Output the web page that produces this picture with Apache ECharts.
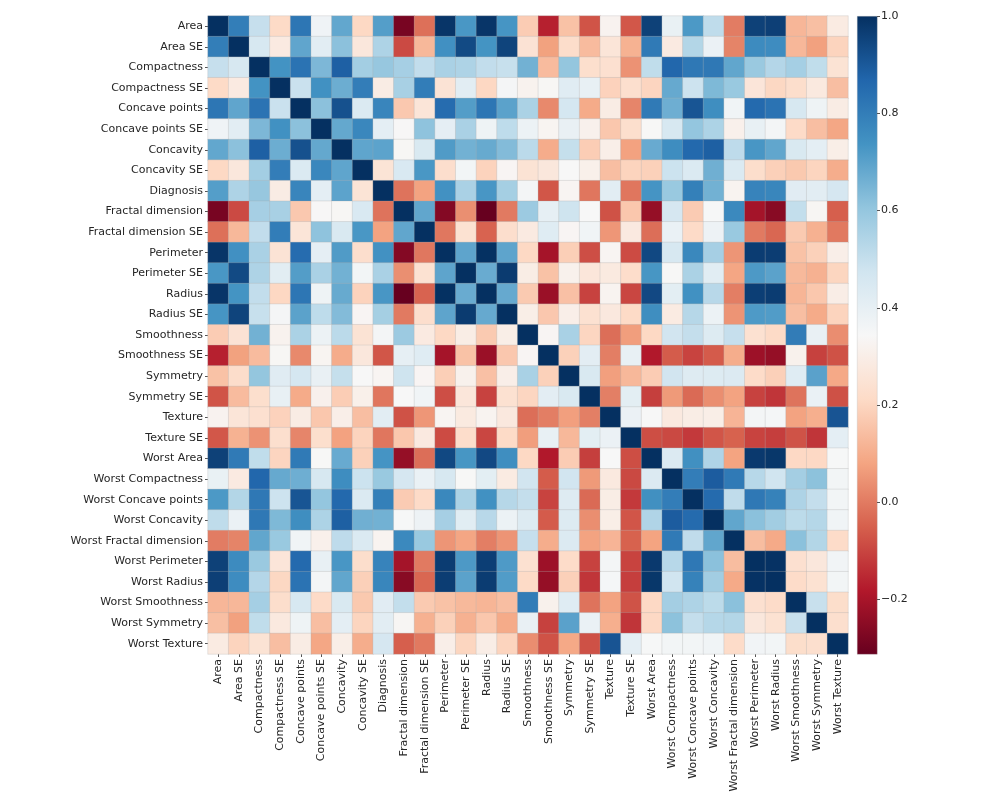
<!DOCTYPE html>
<html>
<head>
<meta charset="utf-8">
<script src="https://cdn.jsdelivr.net/npm/echarts@6/dist/echarts.min.js"></script>
<style>
  html, body { margin: 0; padding: 0; background: #fff; }
  #chart { width: 1000px; height: 800px; }
</style>
</head>
<body>
<div id="chart"></div>
<script>
// axis labels, in the order they are shown (top to bottom / left to right)
const labels = ['Area', 'Area SE', 'Compactness', 'Compactness SE', 'Concave points', 'Concave points SE',
    'Concavity', 'Concavity SE', 'Diagnosis', 'Fractal dimension', 'Fractal dimension SE', 'Perimeter',
    'Perimeter SE', 'Radius', 'Radius SE', 'Smoothness', 'Smoothness SE', 'Symmetry', 'Symmetry SE',
    'Texture', 'Texture SE', 'Worst Area', 'Worst Compactness', 'Worst Concave points', 'Worst Concavity',
    'Worst Fractal dimension', 'Worst Perimeter', 'Worst Radius', 'Worst Smoothness', 'Worst Symmetry',
    'Worst Texture']

// order of the correlation rows below (each row = correlation with the features after it)
const features = ['Radius', 'Texture', 'Perimeter', 'Area', 'Smoothness', 'Compactness', 'Concavity',
    'Concave points', 'Symmetry', 'Fractal dimension', 'Radius SE', 'Texture SE', 'Perimeter SE', 'Area SE',
    'Smoothness SE', 'Compactness SE', 'Concavity SE', 'Concave points SE', 'Symmetry SE', 'Fractal dimension SE',
    'Worst Radius', 'Worst Texture', 'Worst Perimeter', 'Worst Area', 'Worst Smoothness', 'Worst Compactness',
    'Worst Concavity', 'Worst Concave points', 'Worst Symmetry', 'Worst Fractal dimension', 'Diagnosis']

const radius = [0.324, 0.998, 0.987, 0.171, 0.506, 0.677, 0.823, 0.148, -0.312, 0.679, -0.097, 0.674, 0.736, -0.223, 0.206, 0.194, 0.376, -0.104, -0.043, 0.970, 0.297, 0.965, 0.941, 0.120, 0.413, 0.527, 0.744, 0.164, 0.007, 0.730]
const texture = [0.330, 0.321, -0.023, 0.237, 0.302, 0.293, 0.071, -0.076, 0.276, 0.386, 0.282, 0.260, 0.007, 0.192, 0.143, 0.164, 0.009, 0.054, 0.353, 0.912, 0.358, 0.344, 0.078, 0.278, 0.301, 0.295, 0.105, 0.119, 0.415]
const perimeter = [0.987, 0.207, 0.557, 0.716, 0.851, 0.183, -0.261, 0.692, -0.087, 0.693, 0.745, -0.203, 0.251, 0.228, 0.407, -0.082, -0.006, 0.969, 0.303, 0.970, 0.942, 0.151, 0.456, 0.564, 0.771, 0.189, 0.051, 0.743]
const area = [0.177, 0.499, 0.686, 0.823, 0.151, -0.283, 0.733, -0.066, 0.727, 0.800, -0.167, 0.213, 0.208, 0.372, -0.072, -0.020, 0.963, 0.287, 0.959, 0.959, 0.124, 0.391, 0.513, 0.722, 0.144, 0.004, 0.709]
const smoothness = [0.659, 0.522, 0.554, 0.558, 0.585, 0.301, 0.068, 0.296, 0.247, 0.332, 0.319, 0.248, 0.381, 0.201, 0.284, 0.213, 0.036, 0.239, 0.207, 0.805, 0.472, 0.435, 0.503, 0.394, 0.499, 0.359]
const compactness = [0.883, 0.831, 0.603, 0.565, 0.497, 0.046, 0.549, 0.456, 0.135, 0.739, 0.571, 0.642, 0.230, 0.507, 0.535, 0.248, 0.590, 0.510, 0.566, 0.866, 0.816, 0.816, 0.510, 0.687, 0.597]
const concavity = [0.921, 0.501, 0.337, 0.632, 0.076, 0.660, 0.617, 0.099, 0.670, 0.691, 0.683, 0.178, 0.449, 0.688, 0.300, 0.730, 0.676, 0.449, 0.755, 0.884, 0.861, 0.409, 0.515, 0.696]
const concavePoints = [0.462, 0.167, 0.698, 0.021, 0.711, 0.690, 0.028, 0.490, 0.439, 0.616, 0.095, 0.258, 0.830, 0.293, 0.856, 0.810, 0.453, 0.667, 0.752, 0.910, 0.376, 0.369, 0.777]
const symmetry = [0.480, 0.303, 0.128, 0.314, 0.224, 0.188, 0.422, 0.343, 0.393, 0.449, 0.332, 0.186, 0.091, 0.219, 0.177, 0.427, 0.473, 0.434, 0.430, 0.700, 0.438, 0.330]
const fractal = [0.000, 0.164, 0.040, -0.090, 0.402, 0.560, 0.447, 0.341, 0.345, 0.688, -0.254, -0.051, -0.205, -0.232, 0.505, 0.459, 0.346, 0.175, 0.334, 0.767, -0.013]
const radiusSE = [0.213, 0.973, 0.952, 0.165, 0.356, 0.332, 0.514, 0.241, 0.228, 0.715, 0.195, 0.720, 0.752, 0.142, 0.287, 0.381, 0.531, 0.095, 0.050, 0.567]
const textureSE = [0.223, 0.112, 0.397, 0.232, 0.195, 0.230, 0.412, 0.280, -0.112, 0.409, -0.102, -0.083, -0.074, -0.092, -0.069, -0.120, -0.128, -0.046, -0.008]
const perimeterSE = [0.938, 0.151, 0.416, 0.362, 0.556, 0.266, 0.244, 0.697, 0.200, 0.721, 0.731, 0.130, 0.342, 0.419, 0.555, 0.110, 0.085, 0.556]
const areaSE = [0.075, 0.285, 0.271, 0.416, 0.134, 0.127, 0.757, 0.196, 0.761, 0.811, 0.125, 0.283, 0.385, 0.538, 0.074, 0.018, 0.548]
const smoothnessSE = [0.337, 0.269, 0.328, 0.414, 0.427, -0.231, -0.075, -0.217, -0.182, 0.314, -0.056, -0.058, -0.102, -0.107, 0.101, -0.067]
const compactnessSE = [0.801, 0.744, 0.395, 0.803, 0.205, 0.143, 0.261, 0.199, 0.227, 0.679, 0.639, 0.483, 0.278, 0.591, 0.293]
const concavitySE = [0.772, 0.309, 0.727, 0.187, 0.100, 0.227, 0.188, 0.168, 0.485, 0.663, 0.440, 0.198, 0.439, 0.254]
const concavePointsSE = [0.313, 0.611, 0.358, 0.087, 0.395, 0.342, 0.215, 0.453, 0.550, 0.602, 0.143, 0.311, 0.408]
const symmetrySE = [0.369, -0.128, -0.077, -0.104, -0.110, -0.013, 0.060, 0.037, -0.030, 0.389, 0.078, -0.007]
const fractalSE = [-0.037, -0.003, -0.001, -0.023, 0.171, 0.390, 0.380, 0.215, 0.111, 0.591, 0.078]
const worstRadius = [0.360, 0.994, 0.984, 0.217, 0.476, 0.574, 0.787, 0.244, 0.093, 0.776]
const worstTexture = [0.365, 0.346, 0.225, 0.361, 0.368, 0.360, 0.233, 0.219, 0.457]
const worstPerimeter = [0.978, 0.237, 0.529, 0.618, 0.816, 0.269, 0.139, 0.783]
const worstArea = [0.209, 0.438, 0.543, 0.747, 0.209, 0.080, 0.734]
const worstSmoothness = [0.568, 0.518, 0.548, 0.494, 0.618, 0.421]
const worstCompactness = [0.892, 0.801, 0.614, 0.810, 0.591]
const worstConcavity = [0.855, 0.533, 0.687, 0.660]
const worstConcavePoints = [0.503, 0.511, 0.794]
const worstSymmetry = [0.538, 0.416]
const worstFractal = [0.324]
const diagnosis = []

const colorbarTicks = [-0.2, 0.0, 0.2, 0.4, 0.6, 0.8, 1.0]
const valueMin = -0.312
const valueMax = 1.0

const rows = [radius, texture, perimeter, area, smoothness, compactness, concavity, concavePoints,
    symmetry, fractal, radiusSE, textureSE, perimeterSE, areaSE, smoothnessSE, compactnessSE, concavitySE,
    concavePointsSE, symmetrySE, fractalSE, worstRadius, worstTexture, worstPerimeter, worstArea,
    worstSmoothness, worstCompactness, worstConcavity, worstConcavePoints, worstSymmetry, worstFractal, diagnosis]

// symmetric lookup
let corr = {}
features.forEach(f => { corr[f] = {}; corr[f][f] = 1 })
rows.forEach((row, i) => {
    row.forEach((v, k) => {
        let j = i + 1 + k
        corr[features[i]][features[j]] = v
        corr[features[j]][features[i]] = v
    })
})

let data = []
labels.forEach((ry, yi) => {
    labels.forEach((rx, xi) => {
        data.push([xi, yi, corr[ry][rx]])
    })
})

const textColor = '#262626'
const font = 'DejaVu Sans'
// RdBu, low -> high
const rdBu = ['#67001f', '#b2182b', '#d6604d', '#f4a582', '#fddbc7', '#f7f7f7',
    '#d1e5f0', '#92c5de', '#4393c3', '#2166ac', '#053061']

let chart = echarts.init(document.getElementById('chart'))
let option = {
    animation: false,
    textStyle: { fontFamily: font },
    grid: [
        { left: 208, top: 16, width: 640, height: 638 },
        { left: 857, top: 16, width: 20, height: 638 }
    ],
    // colour bar body (square, like matplotlib)
    graphic: [{
        type: 'rect',
        left: 857,
        top: 16,
        shape: { width: 20, height: 638 },
        style: {
            fill: new echarts.graphic.LinearGradient(0, 0, 0, 1,
                rdBu.slice().reverse().map((c, i) => ({ offset: i / (rdBu.length - 1), color: c }))),
            stroke: 'rgba(180,180,180,0.6)',
            lineWidth: 0.5
        },
        silent: true,
        z: 0
    }],
    xAxis: [{
        type: 'category',
        data: labels,
        gridIndex: 0,
        position: 'bottom',
        axisLine: { show: false },
        axisTick: { show: true, alignWithLabel: true, length: 3, lineStyle: { color: '#555' } },
        axisLabel: { rotate: 90, interval: 0, fontSize: 11, color: textColor, margin: 5, fontFamily: font },
        splitLine: { show: false }
    }, {
        type: 'category',
        gridIndex: 1,
        data: [''],
        show: false
    }],
    yAxis: [{
        type: 'category',
        data: labels,
        gridIndex: 0,
        inverse: true,
        axisLine: { show: false },
        axisTick: { show: true, alignWithLabel: true, length: 3, lineStyle: { color: '#555' } },
        axisLabel: { interval: 0, fontSize: 11, color: textColor, margin: 5, fontFamily: font },
        splitLine: { show: false }
    }, {
        type: 'value',
        gridIndex: 1,
        min: valueMin,
        max: valueMax,
        position: 'right',
        axisLine: { show: false },
        splitLine: { show: false },
        axisTick: { show: true, length: 3, customValues: colorbarTicks, lineStyle: { color: '#555' } },
        axisLabel: {
            customValues: colorbarTicks,
            fontSize: 11,
            color: textColor,
            margin: 4,
            fontFamily: font,
            formatter: v => (v < 0 ? '\u2212' : '') + Math.abs(v).toFixed(1)
        }
    }],
    visualMap: {
        type: 'continuous',
        show: false,
        seriesIndex: 0,
        min: valueMin,
        max: valueMax,
        inRange: { color: rdBu }
    },
    series: [{
        type: 'heatmap',
        xAxisIndex: 0,
        yAxisIndex: 0,
        data: data,
        itemStyle: { borderColor: 'rgba(170,170,170,0.55)', borderWidth: 0.5 },
        emphasis: { disabled: true }
    }, {
        type: 'scatter',
        xAxisIndex: 1,
        yAxisIndex: 1,
        data: [],
        silent: true
    }]
}
chart.setOption(option)
</script>
</body>
</html>
